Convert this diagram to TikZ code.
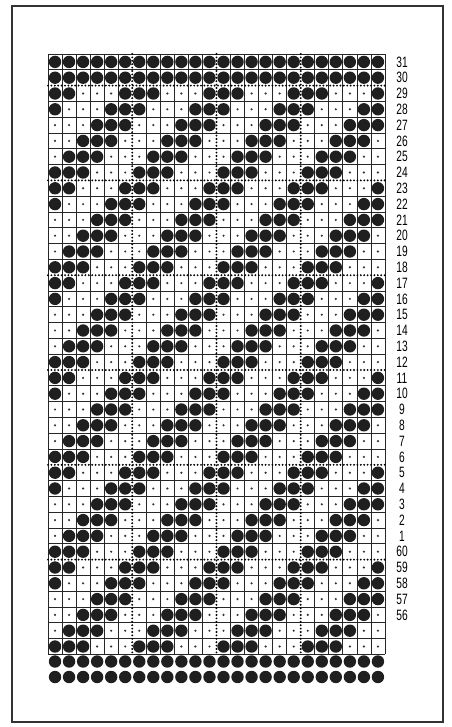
\documentclass[tikz,border=0pt]{standalone}
\usepackage{fontspec}
\newfontfamily\labelfont{Liberation Sans}

\begin{document}
\begin{tikzpicture}[
    x=1pt, y=-1pt,
    gridline/.style={line width=0.7pt, draw=black!85},
    dotline/.style ={line width=2.1pt, draw=black, dash pattern=on 0pt off 3.4pt, line cap=round},
    hole/.style    ={fill=black!88},
    pinhole/.style ={fill=black!80},
    rowlabel/.style={font=\labelfont\fontsize{15}{15}\selectfont, xscale=0.68, inner sep=0pt},
    cardframe/.style={line width=1.3pt, draw=black!80},
]
\useasboundingbox (0,0) rectangle (451,727);

\def\cw{14.04}
\def\ch{15.8}
\def\gx{48}
\def\gy{54}

% ── Card outline ─────────────────────────────────────────────
\draw[cardframe] (12,6) rectangle (443,722);

% ── Grid: plain lines, dotted every sixth ───────────────────
\foreach \c in {0,...,24}{
  \ifnum\c=6 \else\ifnum\c=12 \else\ifnum\c=18 \else
    \draw[gridline] ({\gx+\c*\cw},\gy) -- ({\gx+\c*\cw},{\gy+38*\ch});
  \fi\fi\fi
}
\foreach \r in {0,...,38}{
  \pgfmathtruncatemacro\rm{mod(\r+4,6)}
  \ifnum\r>0 \ifnum\r<38 \ifnum\rm=0 \else
    \draw[gridline] (\gx,{\gy+\r*\ch}) -- ({\gx+24*\cw},{\gy+\r*\ch});
  \fi\else
    \draw[gridline] (\gx,{\gy+\r*\ch}) -- ({\gx+24*\cw},{\gy+\r*\ch});
  \fi\else
    \draw[gridline] (\gx,{\gy+\r*\ch}) -- ({\gx+24*\cw},{\gy+\r*\ch});
  \fi
}
\foreach \c in {6,12,18}
  \draw[dotline] ({\gx+\c*\cw},\gy) -- ({\gx+\c*\cw},{\gy+38*\ch});
\foreach \r in {2,8,...,32}
  \draw[dotline] (\gx,{\gy+\r*\ch}) -- ({\gx+24*\cw},{\gy+\r*\ch});

% ── Punched holes and blank marks ────────────────────────────
\foreach \r in {0,...,37}{
  \foreach \c in {0,...,23}{
    \pgfmathtruncatemacro\m{mod(\c+\r,6)}
    \pgfmathtruncatemacro\isbig{or(\r<2, and(\m>0, \m<4))}
    \ifnum\isbig=1
      \fill[hole] ({\gx+(\c+0.5)*\cw},{\gy+(\r+0.5)*\ch}) circle (6.2);
    \else
      \fill[pinhole] ({\gx+(\c+0.5)*\cw},{\gy+(\r+0.5)*\ch}) circle (1.2);
    \fi
  }
}

% ── Two free rows below the grid ─────────────────────────────
\foreach \yy in {661.5,677}
  \foreach \c in {0,...,23}
    \fill[hole] ({\gx+(\c+0.5)*\cw},\yy) circle (6.2);

% ── Row numbers ──────────────────────────────────────────────
\foreach \lab [count=\i from 0] in {31,30,29,28,27,26,25,24,23,22,21,20,19,18,17,16,
    15,14,13,12,11,10,9,8,7,6,5,4,3,2,1,60,59,58,57,56}
  \node[rowlabel] (lab\i) at (402,{\gy+(\i+0.5)*\ch}) {\lab};

\end{tikzpicture}
\end{document}
